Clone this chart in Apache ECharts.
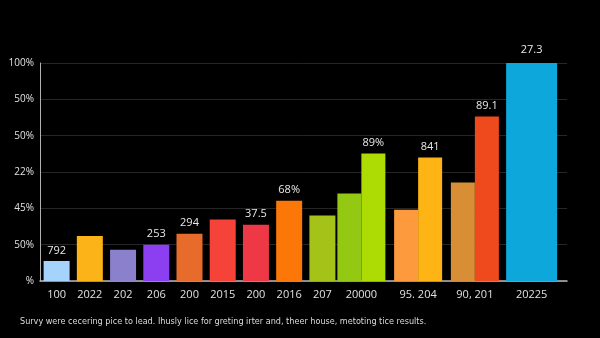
<!DOCTYPE html>
<html><head><meta charset="utf-8">
<script src="https://cdn.jsdelivr.net/npm/echarts@6/dist/echarts.min.js"></script>
<style>html,body{margin:0;padding:0;background:#000}#c{width:600px;height:338px}</style>
</head><body><div id="c"></div>
<script>
// ---- data ----
const yTickLabels = ["%", "50%", "45%", "22%", "50%", "50%", "100%"]; // bottom to top
const singleCats = ["100", "2022", "202", "206", "200", "2015", "200", "2016", "207"];
const singleValues = [5.5, 12.4, 8.6, 10.0, 13.0, 16.9, 15.5, 22.1, 18.0];
const singleLabels = ["792", "", "", "253", "294", "", "37.5", "68%", ""];
const groupCats = ["20000", "95. 204", "90, 201", "20225"];
const pairLeftValues = [24.1, 19.6, 27.1, null];
const pairRightValues = [35.1, 34.0, 45.3, null];
const pairRightLabels = ["89%", "841", "89.1", ""];
const wideValues = [null, null, null, 60];
const wideLabels = ["", "", "", "27.3"];
const caption = "Survy were cecering pice to lead. Ihusly lice for greting irter and, theer house, metoting tice results.";

// ---- styles ----
const singleColors = ["#a6d3fb", "#fbb317", "#8a80cc", "#8c3ff0", "#e76c2b", "#f5433a", "#ef3845", "#fb7708", "#a4c217"];
const pairLeftColors = ["#94c913", "#fd9a3e", "#d88e34", "#000"];
const pairRightColors = ["#acdc03", "#fdb414", "#ef4a1e", "#000"];
const wideColor = "#0ea7dc";
const FONT = "Open Sans";
const labelStyle = { show: true, position: "top", distance: 5, color: "#e8e8e8", fontSize: 11, fontFamily: FONT };

const chart = echarts.init(document.getElementById("c"));
const yBase = { type: "value", min: 0, max: 60, interval: 10 };
const gridTop = 63, gridBottom = 338 - 281;

function items(vals, colors) {
  return vals.map((v, i) => ({ value: v, itemStyle: { color: colors[i] } }));
}

chart.setOption({
  backgroundColor: "#000",
  animation: false,
  title: {
    text: caption, left: 15, top: 312,
    textStyle: { color: "#dcdcdc", fontSize: 9, fontWeight: "normal", fontFamily: "Liberation Sans Narrow, DejaVu Sans Condensed, sans-serif" }
  },
  grid: [
    { left: 40, right: 600 - 567, top: gridTop, bottom: gridBottom },
    { left: 40, right: 600 - 339, top: gridTop, bottom: gridBottom },
    { left: 333, right: 600 - 560, top: gridTop, bottom: gridBottom }
  ],
  xAxis: [
    { gridIndex: 0, type: "category", data: [""], axisLine: { lineStyle: { color: "#b8b8b8", width: 1.5 } }, axisTick: { show: false }, axisLabel: { show: false } },
    { gridIndex: 1, type: "category", data: singleCats, axisLine: { show: false }, axisTick: { show: false },
      axisLabel: { color: "#e0e0e0", fontSize: 11, fontFamily: FONT, margin: 8, interval: 0 } },
    { gridIndex: 2, type: "category", data: groupCats, axisLine: { show: false }, axisTick: { show: false },
      axisLabel: { color: "#e0e0e0", fontSize: 11, fontFamily: FONT, margin: 8, interval: 0 } },
    { gridIndex: 2, type: "category", data: groupCats, show: false }
  ],
  yAxis: [
    Object.assign({ gridIndex: 0 }, yBase, {
      axisLine: { show: true, lineStyle: { color: "#b0b0b0" } },
      axisTick: { show: false },
      splitLine: { lineStyle: { color: "#262626" } },
      axisLabel: { color: "#e0e0e0", fontSize: 10, fontFamily: FONT, margin: 6,
        formatter: v => yTickLabels[Math.round(v / 10)] }
    }),
    Object.assign({ gridIndex: 1, show: false }, yBase),
    Object.assign({ gridIndex: 2, show: false }, yBase)
  ],
  series: [
    { type: "bar", xAxisIndex: 1, yAxisIndex: 1, barWidth: 26, data: items(singleValues, singleColors),
      label: Object.assign({}, labelStyle, { formatter: p => singleLabels[p.dataIndex] }) },
    { type: "bar", xAxisIndex: 2, yAxisIndex: 2, barWidth: 24, barGap: "0%", data: items(pairLeftValues, pairLeftColors) },
    { type: "bar", xAxisIndex: 2, yAxisIndex: 2, barWidth: 24, barGap: "0%", data: items(pairRightValues, pairRightColors),
      label: Object.assign({}, labelStyle, { formatter: p => pairRightLabels[p.dataIndex] }) },
    { type: "bar", xAxisIndex: 3, yAxisIndex: 2, barWidth: 51, data: wideValues, itemStyle: { color: wideColor },
      label: Object.assign({}, labelStyle, { distance: 8, formatter: p => wideLabels[p.dataIndex] }) }
  ]
});
</script></body></html>
